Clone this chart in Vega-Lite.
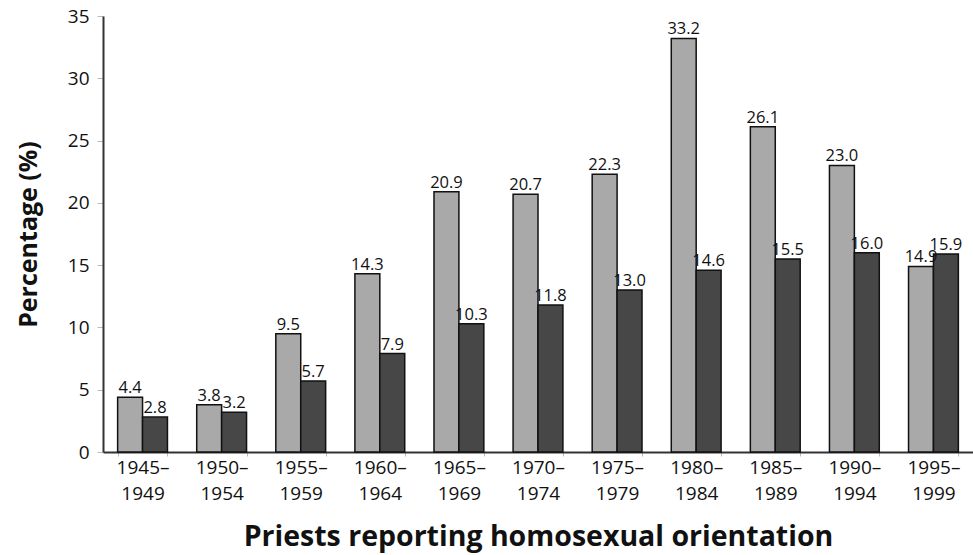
{
  "$schema": "https://vega.github.io/schema/vega-lite/v6.json",
  "autosize": "none",
  "width": 870,
  "height": 436,
  "padding": {"left": 103, "top": 16, "right": 0, "bottom": 103},
  "background": "white",
  "config": {"view": {"stroke": null}, "font": "Open Sans"},
  "data": {"values": [
    {"period": "1945–|1949", "series": "a", "value": 4.4},
    {"period": "1945–|1949", "series": "b", "value": 2.8},
    {"period": "1950–|1954", "series": "a", "value": 3.8},
    {"period": "1950–|1954", "series": "b", "value": 3.2},
    {"period": "1955–|1959", "series": "a", "value": 9.5},
    {"period": "1955–|1959", "series": "b", "value": 5.7},
    {"period": "1960–|1964", "series": "a", "value": 14.3},
    {"period": "1960–|1964", "series": "b", "value": 7.9},
    {"period": "1965–|1969", "series": "a", "value": 20.9},
    {"period": "1965–|1969", "series": "b", "value": 10.3},
    {"period": "1970–|1974", "series": "a", "value": 20.7},
    {"period": "1970–|1974", "series": "b", "value": 11.8},
    {"period": "1975–|1979", "series": "a", "value": 22.3},
    {"period": "1975–|1979", "series": "b", "value": 13.0},
    {"period": "1980–|1984", "series": "a", "value": 33.2},
    {"period": "1980–|1984", "series": "b", "value": 14.6},
    {"period": "1985–|1989", "series": "a", "value": 26.1},
    {"period": "1985–|1989", "series": "b", "value": 15.5},
    {"period": "1990–|1994", "series": "a", "value": 23.0},
    {"period": "1990–|1994", "series": "b", "value": 16.0},
    {"period": "1995–|1999", "series": "a", "value": 14.9},
    {"period": "1995–|1999", "series": "b", "value": 15.9}
  ]},
  "encoding": {
    "x": {
      "field": "period", "type": "nominal", "sort": null,
      "scale": {"paddingInner": 0.37, "paddingOuter": 0.185},
      "axis": {
        "title": "Priests reporting homosexual orientation",
        "titleFont": "Open Sans", "titleFontSize": 28.5, "titleFontWeight": "bold", "titleColor": "#111",
        "titlePadding": 19,
        "labelExpr": "split(datum.label, '|')",
        "labelAngle": 0, "labelFontSize": 19, "labelColor": "#111", "labelPadding": 2,
        "labelLineHeight": 26,
        "domainColor": "#333", "domainWidth": 2,
        "tickBand": "extent", "tickColor": "#bbb", "tickSize": 4
      }
    },
    "xOffset": {"field": "series", "type": "nominal", "scale": {"paddingInner": 0}},
    "y": {
      "field": "value", "type": "quantitative",
      "scale": {"domain": [0, 35], "nice": false},
      "axis": {
        "title": "Percentage (%)", "values": [0, 5, 10, 15, 20, 25, 30, 35],
        "titleFont": "Open Sans", "titleFontSize": 25, "titleFontWeight": "bold", "titleColor": "#111",
        "titlePadding": 26,
        "labelFontSize": 19, "labelColor": "#111", "labelPadding": 8,
        "grid": false, "domainColor": "#333", "domainWidth": 2,
        "tickColor": "#bbb", "tickSize": 6
      }
    }
  },
  "layer": [
    {
      "mark": {"type": "bar", "stroke": "#111", "strokeWidth": 1.5},
      "encoding": {
        "color": {"field": "series", "type": "nominal", "legend": null,
          "scale": {"domain": ["a", "b"], "range": ["#a9a9a9", "#474747"]}}
      }
    },
    {
      "mark": {"type": "text", "baseline": "bottom", "dy": -1, "fontSize": 16.5, "color": "#111"},
      "encoding": {"text": {"field": "value", "type": "quantitative", "format": ".1f"}}
    }
  ]
}
